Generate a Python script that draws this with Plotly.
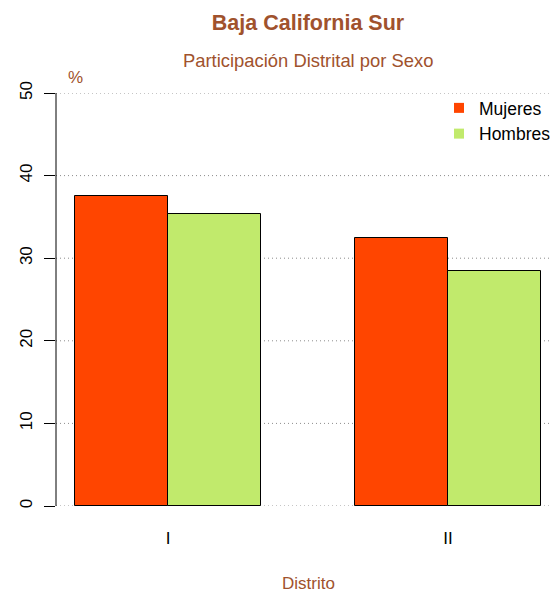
import plotly.graph_objects as go

distritos = ["I", "II"]
mujeres = [37.55, 32.5]
hombres = [35.3, 28.4]
y_ticks = [0, 10, 20, 30, 40, 50]

title_color = "#A0522D"
col_m = "#FF4500"
col_h = "#C1EA6C"
font_family = "Liberation Sans, Arial, sans-serif"

# positions in R barplot units (beside=TRUE, space=c(0,1))
centers = [2 + 3 * i for i in range(len(distritos))]
x_m = [c - 0.5 for c in centers]
x_h = [c + 0.5 for c in centers]

fig = go.Figure()
fig.add_trace(go.Bar(x=x_m, y=mujeres, width=1, name="Mujeres", showlegend=False,
                     marker=dict(color=col_m, line=dict(color="black", width=1))))
fig.add_trace(go.Bar(x=x_h, y=hombres, width=1, name="Hombres", showlegend=False,
                     marker=dict(color=col_h, line=dict(color="black", width=1))))
# legend entries (filled squares without border)
for nm, col in [("Mujeres", col_m), ("Hombres", col_h)]:
    fig.add_trace(go.Scatter(x=[None], y=[None], mode="markers", name=nm,
                             marker=dict(symbol="square", size=10, color=col,
                                         line=dict(width=0))))

# page has an 8px body margin: work in window pixels, convert to figure pixels
OFF = 8
W, H = 560 - OFF, 593 - OFF
L = 56 - OFF
T = 93 - OFF
BOT = 506 - OFF
B = H - BOT
PW, PH = W - L, BOT - T


def py(y_win):
    return (BOT - (y_win - OFF)) / PH


def px(x_win):
    return (x_win - OFF - L) / PW


fig.update_layout(
    width=W, height=H,
    margin=dict(l=L, r=0, t=T, b=B, autoexpand=False),
    plot_bgcolor="white", paper_bgcolor="white",
    font=dict(family=font_family, color="black", size=17),
    bargap=0, showlegend=True,
    legend=dict(x=px(439), y=py(90), xanchor="left", yanchor="top",
                bgcolor="rgba(0,0,0,0)", font=dict(size=17.5, color="black"),
                itemwidth=30, tracegroupgap=0),
    title=dict(text="<b>Baja California Sur</b>", x=0.5, xref="paper",
               y=1 - (22 - OFF) / H, yanchor="middle",
               font=dict(size=21.5, color=title_color)),
)
fig.update_xaxes(range=[0.8, 6.2], tickmode="array", tickvals=centers,
                 ticktext=distritos, showgrid=False, zeroline=False,
                 showline=False, ticks="", automargin=False,
                 tickfont=dict(size=17, color="black"), ticklabelstandoff=20)
fig.update_yaxes(range=[0, 50], tickmode="array", tickvals=y_ticks,
                 showgrid=False, zeroline=False, showline=False,
                 ticks="outside", ticklen=11, tickcolor="black", automargin=False,
                 tickangle=-90, tickfont=dict(size=17, color="black"),
                 ticklabelstandoff=5)
# dotted grid lines (behind the bars)
for v in y_ticks:
    fig.add_shape(type="line", xref="paper", yref="y", x0=0, x1=1, y0=v, y1=v,
                  layer="below", line=dict(color="#8c8c8c", width=1, dash="1px,3px"))
# R-style axis line from 0 to 50
fig.add_shape(type="line", xref="paper", yref="y", x0=0, x1=0, y0=y_ticks[0],
              y1=y_ticks[-1], line=dict(color="black", width=1))

fig.add_annotation(text="Participación Distrital por Sexo", xref="paper", yref="paper",
                   x=0.5, y=py(60), showarrow=False, xanchor="center",
                   yanchor="middle", font=dict(size=18.4, color=title_color))
fig.add_annotation(text="%", xref="paper", yref="paper", x=px(75),
                   y=py(77), showarrow=False, xanchor="center", yanchor="middle",
                   font=dict(size=17, color=title_color))
fig.add_annotation(text="Distrito", xref="paper", yref="paper", x=0.5,
                   y=py(583), showarrow=False, xanchor="center", yanchor="middle",
                   font=dict(size=17, color=title_color))

fig.write_html("out.html")
